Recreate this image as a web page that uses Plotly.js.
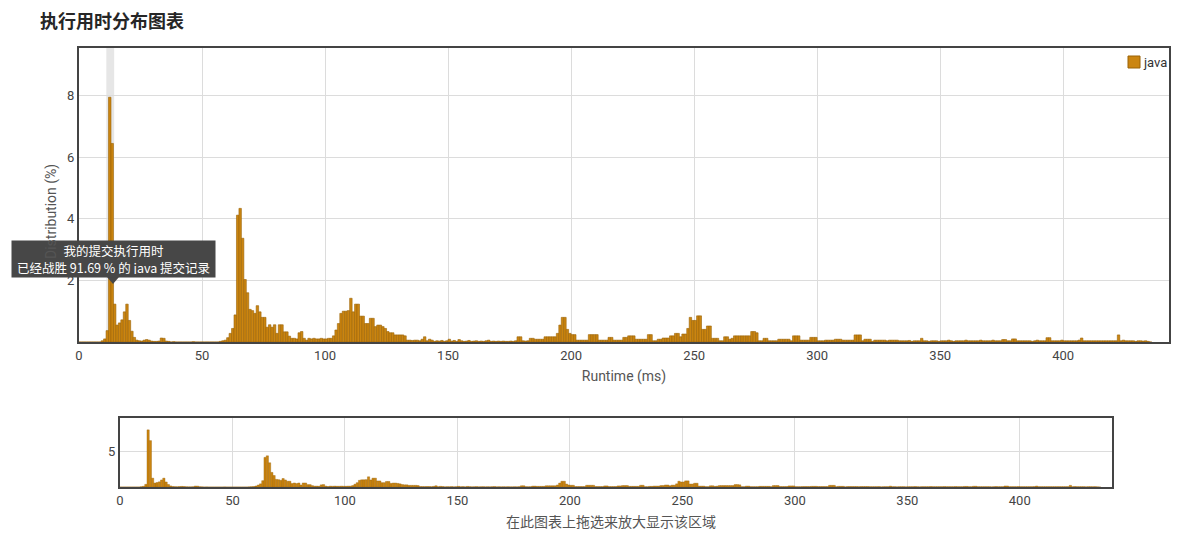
<!DOCTYPE html>
<html>
<head>
<meta charset="utf-8">
<script src="https://cdn.plot.ly/plotly-3.0.1.min.js"></script>
<style>
  html, body { margin: 0; padding: 0; background: #fff; }
  #chart { width: 1190px; height: 539px; }
</style>
</head>
<body>
<div id="chart"></div>
<script>
// ---- data ----
const chartTitle = '执行用时分布图表';
const seriesName = 'java';
const startMs = 0;            // runtime of first bin (ms), bins are 1 ms wide
const distribution = [
  0,0,0,0,0,0,0,0,0,0.04,
  0.1,0.37,7.95,6.45,1.23,0.55,0.62,0.72,0.98,1.23,
  0.7,0.35,0.15,0.06,0.04,0.03,0.06,0.08,0.06,0.03,
  0.02,0.02,0.03,0.13,0.12,0.03,0.02,0,0.01,0,
  0,0,0,0,0,0,0.01,0,0,0,
  0,0,0,0,0,0,0,0.02,0.04,0.06,
  0.14,0.28,0.44,0.88,4.12,4.34,3.37,2.03,1.6,1.06,
  1.02,0.93,1.18,0.98,0.8,0.8,0.48,0.56,0.48,0.56,
  0.28,0.56,0.56,0.33,0.33,0.19,0.12,0.12,0.1,0.3,
  0.34,0.12,0.06,0.12,0.1,0.12,0.1,0.1,0.12,0.1,
  0.1,0.12,0.12,0.2,0.39,0.6,0.93,1.0,1.0,1.02,
  1.42,0.98,1.23,1.23,0.84,0.84,0.6,0.6,0.77,0.77,
  0.5,0.55,0.55,0.5,0.44,0.34,0.3,0.3,0.23,0.23,
  0.23,0.23,0.2,0.06,0.06,0.05,0.06,0.06,0.04,0.09,
  0.17,0.04,0.09,0.06,0.02,0.04,0.03,0.05,0.02,0.04,
  0.09,0.03,0.05,0.02,0.08,0.04,0.02,0.03,0.05,0.02,
  0.03,0.04,0.02,0.03,0.02,0.04,0.06,0.02,0.03,0.02,
  0.03,0.02,0.03,0.02,0.02,0.03,0.02,0.04,0.17,0.17,
  0.04,0.03,0.04,0.12,0.12,0.09,0.09,0.09,0.09,0.17,
  0.17,0.17,0.17,0.17,0.28,0.55,0.8,0.8,0.41,0.28,
  0.24,0.24,0.06,0.06,0.06,0.06,0.06,0.24,0.24,0.24,
  0.24,0.06,0.06,0.06,0.06,0.15,0.15,0.06,0.06,0.06,
  0.06,0.15,0.15,0.2,0.2,0.2,0.09,0.09,0.09,0.09,
  0.09,0.24,0.24,0.04,0.04,0.09,0.09,0.13,0.13,0.13,
  0.2,0.2,0.28,0.28,0.17,0.26,0.26,0.44,0.8,0.7,
  0.7,0.85,0.85,0.41,0.41,0.52,0.52,0.12,0.12,0.12,
  0.04,0.04,0.17,0.17,0.09,0.12,0.2,0.2,0.2,0.2,
  0.2,0.2,0.2,0.34,0.34,0.3,0.04,0.04,0.12,0.12,
  0.04,0.04,0.04,0.04,0.09,0.09,0.09,0.09,0.09,0.04,
  0.2,0.2,0.2,0.06,0.06,0.06,0.06,0.15,0.15,0.15,
  0.04,0.04,0.04,0.06,0.06,0.06,0.06,0.09,0.09,0.09,
  0.06,0.06,0.06,0.06,0.06,0.23,0.23,0.23,0.04,0.09,
  0.09,0.09,0.02,0.06,0.06,0.06,0.06,0.06,0.04,0.06,
  0.06,0.06,0.06,0.04,0.04,0.04,0.04,0.05,0.02,0.04,
  0.04,0.04,0.12,0.04,0.04,0.02,0.04,0.04,0.04,0.02,
  0.04,0.04,0.04,0.06,0.04,0.02,0.04,0.04,0.04,0.04,
  0.06,0.04,0.04,0.04,0.04,0.04,0.06,0.04,0.04,0.04,
  0.04,0.06,0.04,0.04,0.04,0.08,0.08,0.04,0.04,0.1,
  0.1,0.04,0.04,0.04,0.04,0.04,0.04,0.02,0.04,0.06,
  0.04,0.04,0.04,0.14,0.14,0.04,0.04,0.04,0.04,0.06,
  0.04,0.04,0.04,0.04,0.04,0.04,0.06,0.13,0.04,0.04,
  0.04,0.04,0.04,0.04,0.04,0.04,0.04,0.04,0.04,0.04,
  0.04,0.04,0.23,0.04,0.06,0.04,0.04,0.04,0.04,0.02,
  0.04,0.04,0.03,0.04,0.02,0
];
const runtimes = distribution.map((_, i) => startMs + i);
const myRuntime = 12;
const beatPercent = '91.69';
const xTicks = [0, 50, 100, 150, 200, 250, 300, 350, 400];
const yTicksMain = [2, 4, 6, 8];
const yTicksNav = [5];
const xTitle = 'Runtime (ms)';
const yTitle = 'Distribution (%)';
const navHint = '在此图表上拖选来放大显示该区域';
const tipLine1 = '我的提交执行用时';
const tipLine2 = '已经战胜 ' + beatPercent + ' % 的 ' + seriesName + ' 提交记录';

// ---- layout helpers (pixel -> paper) ----
const W = 1190, H = 539;
const px = v => v / W;
const py = v => 1 - v / H;

const barColor = '#cb8510';
const barLine = '#9a6307';
const FONT = 'Roboto, "Noto Sans CJK SC", sans-serif';
const CJK = '"Noto Sans CJK SC", Roboto, sans-serif';

const traces = [
  {
    type: 'bar', name: seriesName, x: runtimes, y: distribution,
    offset: 0, width: 1,
    marker: { color: barColor, line: { color: barLine, width: 0.6 } },
    xaxis: 'x', yaxis: 'y', showlegend: false, hoverinfo: 'x+y'
  },
  {
    type: 'bar', name: seriesName, x: runtimes, y: distribution,
    offset: 0, width: 1,
    marker: { color: barColor, line: { color: barLine, width: 0.4 } },
    xaxis: 'x2', yaxis: 'y2', showlegend: false, hoverinfo: 'skip'
  }
];

const axisCommon = {
  showline: true, mirror: true, linecolor: '#444', linewidth: 2,
  showgrid: true, gridcolor: '#dcdcdc', gridwidth: 1,
  zeroline: false, ticks: '', automargin: false,
  tickfont: { family: FONT, size: 13, color: '#444' }
};

const layout = {
  width: W, height: H,
  margin: { l: 0, r: 0, t: 0, b: 0 },
  paper_bgcolor: '#fff', plot_bgcolor: '#fff',
  font: { family: FONT, color: '#444' },
  title: {
    text: '<b>' + chartTitle + '</b>',
    xref: 'container', yref: 'container',
    x: px(40), xanchor: 'left', y: py(22), yanchor: 'middle',
    font: { family: CJK, size: 18, color: '#262626' }
  },
  bargap: 0,
  showlegend: false,
  xaxis: Object.assign({}, axisCommon, {
    domain: [px(79), px(1169)], range: [0, 443], anchor: 'y',
    tickvals: xTicks,
    title: { text: xTitle, font: { family: FONT, size: 14, color: '#555' }, standoff: 10 }
  }),
  yaxis: Object.assign({}, axisCommon, {
    domain: [py(342), py(48)], range: [0, 9.55], anchor: 'x',
    tickvals: yTicksMain
  }),
  xaxis2: Object.assign({}, axisCommon, {
    domain: [px(120), px(1112)], range: [0, 441], anchor: 'y2',
    tickvals: xTicks
  }),
  yaxis2: Object.assign({}, axisCommon, {
    domain: [py(487), py(418)], range: [0, 9.6], anchor: 'x2',
    tickvals: yTicksNav
  }),
  shapes: [
    {
      type: 'rect', xref: 'x', yref: 'paper', layer: 'below',
      x0: myRuntime - 0.9, x1: myRuntime + 2.3, y0: py(342), y1: py(48),
      fillcolor: '#e6e6e6', line: { width: 0 }
    },
    {
      type: 'path', xref: 'paper', yref: 'paper', layer: 'above',
      path: 'M ' + px(107) + ' ' + py(277) + ' L ' + px(119) + ' ' + py(277) + ' L ' + px(113) + ' ' + py(284) + ' Z',
      fillcolor: '#474747', line: { width: 0 }
    },
    // custom legend swatch
    {
      type: 'rect', xref: 'paper', yref: 'paper', layer: 'above',
      x0: px(1128), x1: px(1140), y0: py(68), y1: py(56),
      fillcolor: barColor, line: { color: barLine, width: 1 }
    }
  ],
  annotations: [
    {
      text: tipLine1 + '<br>' + tipLine2, xref: 'paper', yref: 'paper',
      x: px(113.5), y: py(259), xanchor: 'center', yanchor: 'middle', showarrow: false,
      bgcolor: '#474747', borderpad: 3, width: 197, height: 30,
      font: { family: CJK, size: 12.5, color: '#ffffff' }, align: 'center'
    },
    {
      text: yTitle, textangle: -90, xref: 'paper', yref: 'paper',
      x: px(52), y: py(212), xanchor: 'center', yanchor: 'middle', showarrow: false,
      font: { family: FONT, size: 14, color: '#555' }
    },
    {
      text: seriesName, xref: 'paper', yref: 'paper',
      x: px(1141), y: py(62), xanchor: 'left', yanchor: 'middle', showarrow: false,
      font: { family: FONT, size: 13, color: '#333' }
    },
    {
      text: navHint, xref: 'paper', yref: 'paper',
      x: px(611), y: py(521), xanchor: 'center', yanchor: 'middle', showarrow: false,
      font: { family: CJK, size: 14, color: '#555' }
    }
  ]
};

Plotly.newPlot('chart', traces, layout, { displayModeBar: false, staticPlot: true });
</script>
</body>
</html>
